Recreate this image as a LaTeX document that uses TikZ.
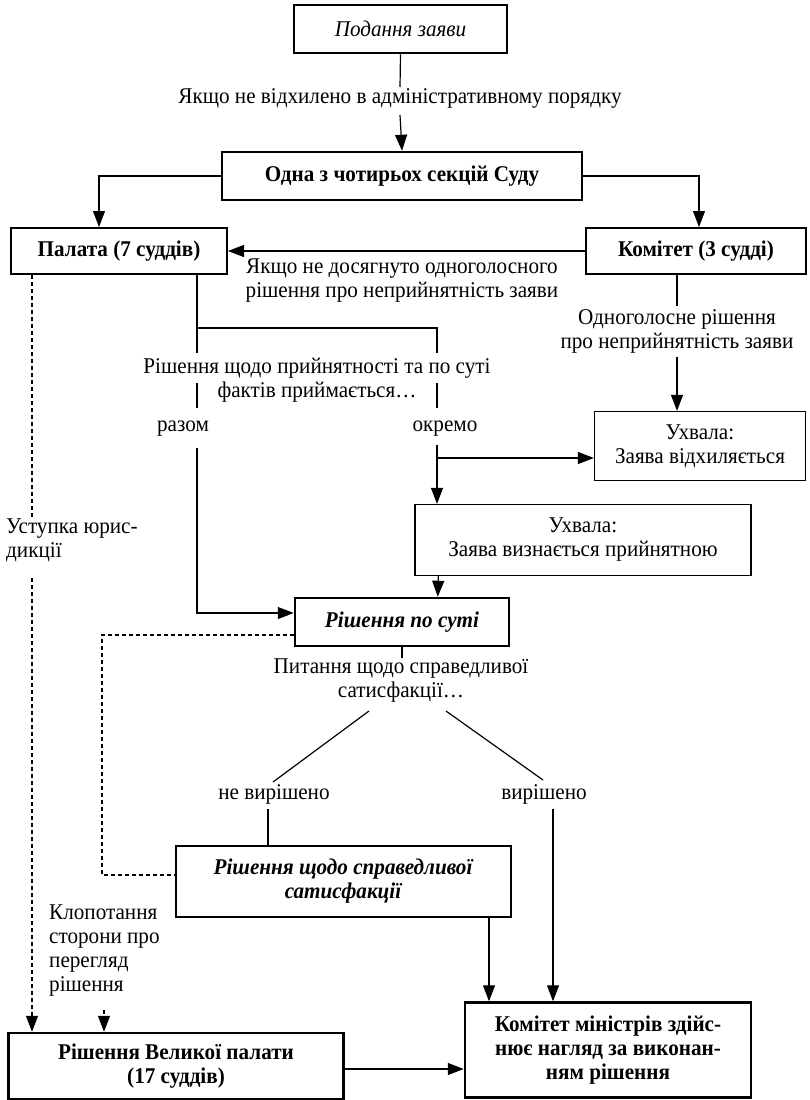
\documentclass[tikz,border=0pt]{standalone}
\usepackage{fontspec}
\setmainfont[FakeStretch=0.94]{Liberation Serif}
\usetikzlibrary{arrows.meta}
\newcommand\fs{\fontsize{22.5}{24}\selectfont}
\begin{document}
\begin{tikzpicture}[x=1pt,y=-1pt,
  every node/.style={font=\fs, inner sep=0pt},
  thickbox/.style={draw, line width=2.5pt, align=center},
  medbox/.style={draw, line width=2pt, align=center},
  thinbox/.style={draw, line width=1.3pt, align=center},
  lbl/.style={align=center},
  conn/.style={line width=1.2pt},
  tip/.style={-{Triangle[length=16pt,width=12pt]}},
  arr/.style={line width=1.2pt, tip},
  dsh/.style={line width=1.2pt, dash pattern=on 4pt off 3pt},
]
\useasboundingbox (0,0) rectangle (809,1100);

% boxes
\node[thickbox, minimum width=213pt, minimum height=48pt, font=\fs\itshape] (A) at (400.5,29) {Подання заяви};
\node[thickbox, minimum width=360pt, minimum height=48pt, font=\fs\bfseries] (B) at (402,176) {Одна з чотирьох секцій Суду};
\node[medbox, minimum width=216pt, minimum height=46pt, font=\fs\bfseries] (P) at (119,251) {Палата (7 суддів)};
\node[medbox, minimum width=220pt, minimum height=46pt, font=\fs\bfseries] (K) at (696,251) {Комітет (3 судді)};
\node[thinbox, minimum width=211pt, minimum height=69pt] (UD) at (700,446) {Ухвала:\\Заява відхиляється};
\node[thinbox, minimum width=336pt, minimum height=71pt] (UV) at (583,540) {Ухвала:\\Заява визнається прийнятною};
\node[thickbox, minimum width=214pt, minimum height=48pt, font=\fs\bfseries\itshape] (RS) at (402,622) {Рішення по суті};
\node[medbox, minimum width=335pt, minimum height=71pt, font=\fs\bfseries\itshape] (SS) at (343,881) {Рішення щодо справедливої\\сатисфакції};
\node[thickbox, minimum width=286pt, minimum height=95pt, font=\fs\bfseries] (KM) at (608,1050) {Комітет міністрів здійс-\\нює нагляд за виконан-\\ням рішення};
\node[thickbox, minimum width=335pt, minimum height=66pt, font=\fs\bfseries] (VP) at (176,1066) {Рішення Великої палати\\(17 суддів)};

% labels
\node[lbl] (L1) at (400,98) {Якщо не відхилено в адміністративному порядку};
\node[lbl] (L2) at (402,281) {Якщо не досягнуто одноголосного\\рішення про неприйнятність заяви};
\node[lbl] (L3) at (317,380) {Рішення щодо прийнятності та по суті\\фактів приймається…};
\node[lbl] (L4) at (677,331) {Одноголосне рішення\\про неприйнятність заяви};
\node[lbl] (raz) at (183,429) {разом};
\node[lbl] (okr) at (445,429) {окремо};
\node[lbl] (L5) at (401,681) {Питання щодо справедливої\\сатисфакції…};
\node[lbl] (nv) at (274,794) {не вирішено};
\node[lbl] (vr) at (544,794) {вирішено};
\node[align=left, anchor=west] (UJ) at (6,540) {Уступка юрис-\\дикції};
\node[align=left, anchor=west] (KL) at (49,951) {Клопотання\\сторони про\\перегляд\\рішення};

% coordinates
\coordinate (j1) at (197,328);
\coordinate (j2) at (437,328);
\coordinate (ok) at (437,445);
\coordinate (ok2) at (437,458);
\coordinate (kx) at (677,306);
\coordinate (ky) at (677,357);
\coordinate (d1) at (102,635);
\coordinate (d2) at (102,875);
\coordinate (nvx) at (268,809);
\coordinate (vrx) at (553,809);
\coordinate (ssx) at (489,917);
\coordinate (uj1) at (32,517);
\coordinate (uj2) at (32,578);
\coordinate (klx) at (104,1010);
\coordinate (l1a) at (400,87);
\coordinate (l1b) at (400,115);

% connectors
\draw[conn] (A.south) -- (l1a);
\draw[arr] (l1b) -- (B.north);
\draw[arr] (B.west) -| ([xshift=89pt]P.north west);
\draw[arr] (B.east) -| ([xshift=114pt]K.north west);
\draw[arr] (K.west) -- (P.east);

\draw[conn] (P.south -| j1) -- (j1) -- (j2) -- ++(0,25);
\draw[conn] (j1) -- ++(0,25);
\draw[conn] (197,383) -- (197,408);
\draw[conn] (437,383) -- (437,408);
\draw[arr] (197,448) |- ([yshift=9pt]RS.west);
\draw[arr] (ok) -- (ok |- UV.north);
\draw[arr] (ok2) -- (ok2 -| UD.west);

\draw[conn] (K.south -| kx) -- (kx);
\draw[arr] (ky) -- (ky |- UD.north);

\draw[arr] ([xshift=24pt]UV.south west) -- ([xshift=144pt]RS.north west);
\draw[dsh] ([yshift=-13pt]RS.west) -- (d1) -- (d2) -- (d2 -| SS.west);
\draw[conn] (RS.south) -- ++(0,11);
\draw[conn] (369,711) -- (273,782);
\draw[conn] (446,711) -- (543,780);
\draw[conn] (nvx) -- (nvx |- SS.north);
\draw[arr] (ssx |- SS.south) -- (ssx |- KM.north);
\draw[arr] (vrx) -- (vrx |- KM.north);
\draw[arr] (VP.east |- 0,1069) -- (KM.west |- 0,1069);

\draw[dsh] (P.south -| uj1) -- (uj1);
\draw[dsh, tip] (uj2) -- (uj2 |- VP.north);
\draw[dsh, tip] (klx) -- (klx |- VP.north);
\end{tikzpicture}
\end{document}
